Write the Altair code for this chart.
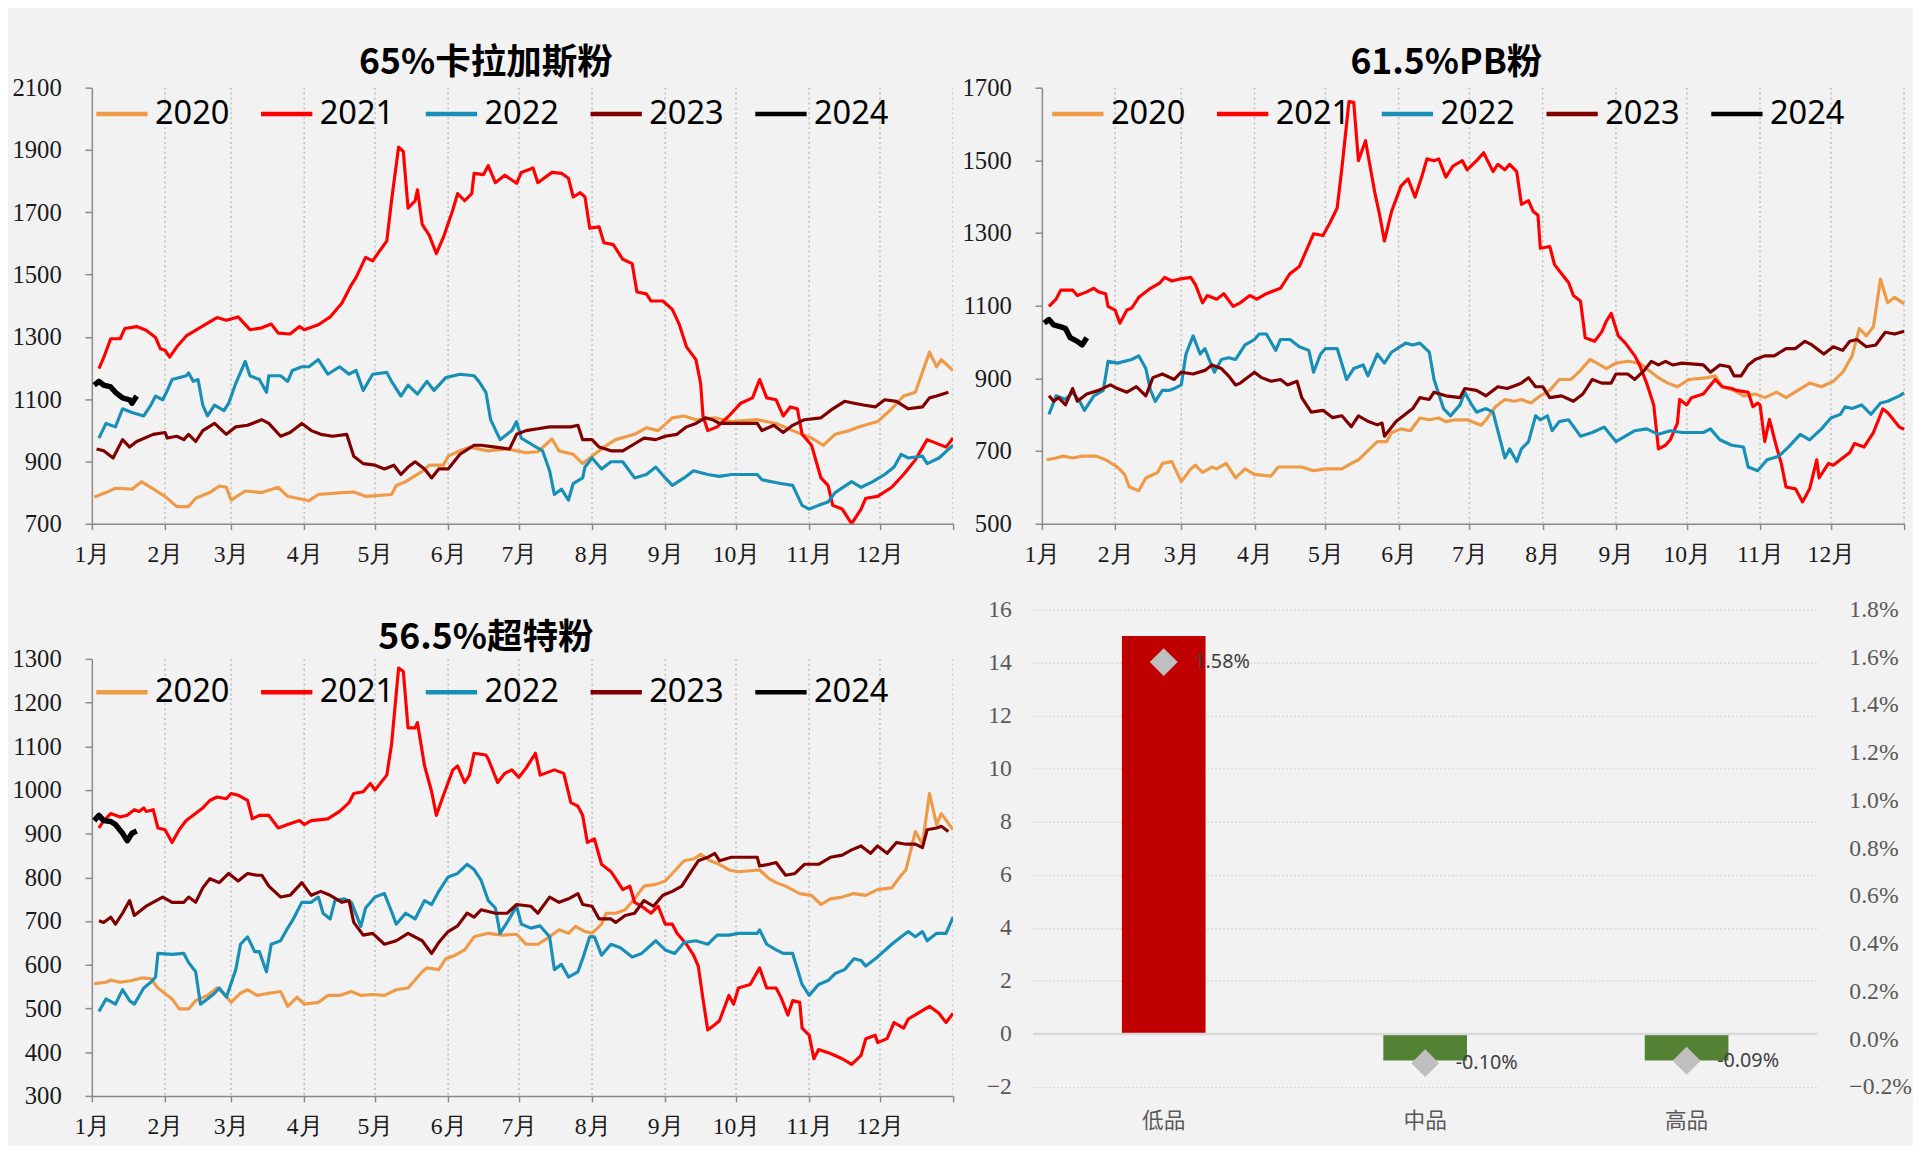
import altair as alt
import pandas as pd

MONTH_DAYS = [0, 31, 59, 90, 120, 151, 181, 212, 243, 273, 304, 334, 365]
MONTH_LABELS = ["1月", "2月", "3月", "4月", "5月", "6月", "7月", "8月", "9月", "10月", "11月", "12月", ""]
YEARS = ["2020", "2021", "2022", "2023", "2024"]
COLORS = ["#EE9A47", "#FF0000", "#178FB6", "#800000", "#000000"]

# ---- 65%卡拉加斯粉 ----
K20 = [(1,786),(6,800),(10,814),(17,811),(21,835),(31,788),(36,755),(41,755),(44,782),(50,800),(54,821),(57,817),(59,776),(65,805),(72,800),(79,817),(83,788),(92,774),(96,794),(106,800),(111,802),(116,788),(127,794),(129,823),(133,835),(140,868),(143,888),(149,888),(151,917),(155,931),(160,946),(168,934),(176,940),(184,928),(189,931),(195,972),(198,934),(204,923),(208,893),(212,917),(217,946),(222,970),(230,987),(235,1008),(240,999),(246,1040),(251,1046),(256,1034),(264,1040),(271,1028),(282,1034),(290,1022),(297,999),(305,975),(310,952),(315,987),(321,999),(326,1013),(333,1028),(339,1069),(344,1110),(349,1122),(355,1251),(358,1204),(360,1227),(365,1192)]
K21 = [(3,1198),(5,1233),(8,1294),(12,1294),(14,1327),(19,1333),(23,1321),(27,1298),(29,1262),(31,1257),(33,1235),(36,1268),(40,1303),(48,1339),(53,1362),(57,1353),(62,1364),(67,1323),(72,1329),(76,1341),(79,1312),(84,1309),(88,1333),(90,1323),(96,1339),(101,1364),(106,1409),(110,1467),(112,1491),(116,1555),(119,1544),(125,1608),(127,1737),(130,1909),(132,1895),(134,1713),(137,1737),(138,1772),(140,1661),(143,1626),(146,1567),(149,1620),(153,1708),(155,1760),(158,1737),(161,1760),(162,1825),(166,1821),(168,1850),(171,1795),(175,1819),(180,1793),(182,1828),(187,1842),(189,1795),(195,1828),(199,1825),(202,1809),(204,1749),(207,1763),(209,1749),(211,1649),(215,1653),(217,1602),(221,1596),(225,1549),(229,1535),(231,1444),(235,1438),(237,1415),(242,1415),(246,1388),(249,1339),(252,1268),(256,1227),(258,1151),(259,1046),(261,999),(265,1011),(270,1046),(275,1087),(280,1104),(283,1163),(286,1104),(290,1098),(293,1046),(296,1075),(299,1069),(301,987),(305,952),(309,847),(312,823),(314,759),(318,747),(322,700),(326,747),(328,782),(333,788),(339,817),(344,858),(349,905),(354,970),(358,958),(362,946),(365,975)]
K22 = [(3,975),(6,1022),(10,1011),(13,1069),(17,1057),(22,1046),(25,1081),(27,1110),(30,1098),(32,1128),(34,1163),(40,1175),(41,1184),(43,1157),(45,1163),(47,1081),(49,1046),(52,1081),(56,1063),(58,1087),(61,1151),(65,1221),(67,1175),(71,1163),(74,1122),(75,1175),(80,1175),(83,1157),(85,1192),(89,1204),(92,1204),(96,1227),(100,1180),(105,1204),(109,1180),(112,1192),(115,1128),(119,1180),(125,1186),(127,1157),(131,1110),(134,1145),(138,1116),(142,1157),(145,1128),(150,1169),(156,1180),(162,1175),(164,1157),(167,1122),(169,1034),(173,970),(178,999),(180,1028),(182,975),(187,952),(191,934),(194,870),(196,794),(199,811),(202,776),(204,829),(208,847),(209,882),(212,911),(216,876),(220,899),(225,899),(230,847),(235,858),(239,882),(243,847),(246,823),(251,847),(255,870),(261,858),(266,852),(271,858),(282,858),(284,841),(292,829),(297,823),(301,759),(304,747),(308,759),(312,770),(315,800),(322,835),(326,817),(331,835),(336,858),(340,882),(343,923),(346,911),(352,917),(354,893),(359,911),(365,952)]
K23 = [(2,940),(5,934),(9,911),(13,970),(16,946),(19,964),(26,987),(31,993),(32,975),(36,981),(39,970),(41,987),(44,964),(47,999),(52,1022),(57,987),(61,1011),(66,1016),(72,1034),(75,1022),(80,981),(84,993),(89,1022),(93,999),(97,987),(102,981),(108,987),(111,917),(115,893),(120,888),(124,876),(128,888),(131,858),(134,882),(137,899),(141,876),(144,847),(147,876),(151,876),(156,923),(162,952),(165,952),(171,946),(177,940),(180,987),(184,999),(189,1005),(194,1011),(203,1011),(206,1016),(208,970),(212,970),(215,946),(220,934),(225,934),(229,952),(234,975),(239,970),(243,981),(248,987),(252,1011),(256,1022),(260,1040),(263,1034),(266,1022),(271,1022),(282,1022),(284,999),(289,1016),(293,993),(297,1016),(302,1034),(309,1040),(314,1069),(319,1093),(323,1087),(327,1081),(332,1075),(336,1098),(341,1093),(346,1069),(352,1075),(355,1104),(358,1110),(363,1122)]
K24 = [(1,1145),(3,1157),(5,1145),(8,1139),(10,1122),(13,1104),(16,1098),(17,1087),(19,1110)]

# ---- 61.5%PB粉 ----
P20 = [(2,676),(6,681),(9,686),(13,681),(17,686),(23,686),(27,676),(32,656),(35,636),(37,601),(41,591),(44,626),(49,641),(51,666),(55,671),(59,616),(63,651),(65,661),(68,641),(72,656),(74,651),(78,666),(82,626),(86,651),(90,636),(97,631),(100,656),(110,656),(115,646),(120,651),(127,651),(131,666),(134,676),(138,701),(142,726),(146,726),(148,751),(152,761),(156,756),(160,791),(164,786),(168,791),(171,781),(175,786),(180,786),(186,771),(188,786),(192,822),(196,842),(200,837),(203,842),(207,832),(211,852),(215,867),(219,897),(224,897),(228,922),(232,952),(235,942),(239,927),(243,942),(248,947),(253,942),(257,922),(261,902),(265,887),(269,877),(274,897),(282,902),(285,907),(288,877),(293,867),(297,852),(302,857),(306,847),(311,862),(315,847),(320,867),(325,887),(330,877),(335,892),(339,917),(343,962),(346,1037),(349,1017),(352,1042),(355,1173),(358,1108),(361,1123),(365,1105)]
P21 = [(3,1098),(6,1118),(8,1143),(13,1143),(15,1128),(19,1138),(22,1148),(24,1138),(27,1133),(28,1098),(31,1088),(33,1052),(36,1088),(38,1093),(41,1123),(46,1148),(50,1163),(52,1178),(55,1168),(58,1173),(63,1178),(65,1158),(68,1108),(70,1128),(74,1118),(77,1133),(81,1098),(84,1108),(88,1128),(91,1118),(95,1133),(101,1148),(105,1188),(109,1208),(111,1238),(115,1298),(119,1293),(122,1329),(125,1369),(127,1479),(130,1662),(132,1660),(134,1499),(137,1554),(141,1409),(143,1349),(145,1278),(148,1359),(152,1429),(155,1449),(158,1399),(161,1459),(163,1504),(166,1499),(168,1504),(171,1454),(174,1484),(178,1499),(180,1474),(184,1499),(187,1521),(191,1469),(193,1489),(196,1474),(198,1489),(201,1469),(203,1379),(206,1389),(208,1359),(210,1349),(211,1258),(215,1263),(217,1213),(220,1188),(223,1163),(225,1128),(228,1113),(230,1012),(234,1002),(237,1028),(239,1058),(241,1079),(244,1017),(247,997),(251,962),(253,937),(256,887),(259,827),(261,706),(264,716),(266,731),(269,776),(270,842),(273,827),(275,847),(280,857),(285,897),(288,877),(292,872),(294,867),(299,862),(301,822),(303,832),(304,827),(306,726),(308,787),(311,711),(313,666),(315,601),(319,596),(322,560),(325,596),(328,676),(329,626),(333,666),(335,661),(338,676),(342,696),(344,721),(348,711),(352,751),(356,816),(358,806),(363,766),(365,760)]
P22 = [(3,801),(6,852),(10,842),(13,862),(16,837),(18,812),(22,852),(26,867),(28,947),(32,942),(38,952),(41,962),(44,927),(46,867),(48,837),(51,867),(54,867),(56,872),(59,882),(61,967),(64,1017),(67,967),(69,982),(73,917),(76,952),(79,957),(82,952),(86,992),(90,1007),(92,1022),(95,1022),(99,977),(101,1007),(105,1007),(109,987),(113,977),(115,917),(118,967),(120,982),(125,982),(129,897),(132,927),(136,937),(138,907),(142,967),(145,942),(148,972),(154,997),(157,992),(160,997),(164,972),(166,897),(170,817),(173,797),(177,827),(179,862),(182,827),(184,807),(188,817),(191,807),(193,756),(196,681),(198,706),(201,671),(203,706),(206,726),(209,797),(211,786),(214,797),(216,756),(219,781),(223,786),(228,741),(233,751),(238,766),(243,726),(247,741),(251,756),(256,761),(261,746),(266,756),(271,751),(280,751),(283,761),(287,731),(292,716),(297,711),(299,656),(303,646),(307,676),(312,686),(316,711),(321,746),(325,731),(330,761),(334,791),(338,801),(340,822),(343,817),(347,827),(351,801),(355,832),(358,837),(363,852),(365,860)]
P23 = [(3,852),(5,837),(7,847),(10,827),(13,872),(15,837),(19,857),(24,867),(29,882),(32,872),(36,862),(40,877),(44,852),(47,902),(51,912),(56,897),(59,917),(64,912),(69,922),(72,937),(76,927),(79,907),(82,882),(84,887),(90,917),(93,902),(97,892),(101,897),(104,882),(108,892),(110,847),(114,807),(119,812),(123,792),(127,797),(131,767),(134,797),(138,782),(142,772),(144,777),(145,741),(150,782),(154,802),(157,817),(160,847),(164,842),(166,862),(171,852),(177,847),(179,872),(184,867),(188,852),(193,877),(197,872),(201,882),(203,887),(206,902),(209,877),(212,877),(215,847),(220,852),(225,837),(229,857),(233,897),(237,887),(241,887),(243,912),(248,912),(251,897),(255,922),(258,947),(261,937),(264,947),(267,937),(271,942),(280,937),(283,917),(287,937),(291,932),(293,907),(296,907),(299,937),(302,952),(306,962),(310,962),(315,982),(319,982),(323,1002),(326,992),(331,967),(335,987),(339,977),(342,1002),(345,1007),(349,987),(353,992),(357,1027),(361,1022),(365,1030)]
P24 = [(1,1052),(3,1062),(5,1047),(8,1042),(10,1037),(12,1012),(15,1002),(17,992),(19,1012)]

# ---- 56.5%超特粉 ----
C20 = [(1,557),(6,560),(8,565),(12,560),(17,564),(21,570),(25,568),(28,547),(34,522),(37,499),(41,499),(44,518),(49,530),(53,547),(56,535),(59,514),(63,535),(66,543),(70,530),(75,535),(80,539),(83,505),(87,526),(90,510),(96,514),(100,530),(105,530),(110,539),(114,530),(119,532),(124,530),(129,543),(134,547),(140,584),(142,593),(147,589),(150,614),(154,622),(158,634),(162,664),(168,672),(174,668),(180,670),(184,647),(189,647),(194,664),(198,680),(202,672),(205,688),(209,676),(212,672),(216,693),(218,718),(222,718),(226,726),(230,751),(234,780),(239,784),(243,792),(246,809),(251,838),(255,842),(258,853),(262,838),(266,830),(270,817),(274,813),(283,817),(287,797),(290,788),(294,780),(300,763),(305,759),(309,738),(313,751),(318,755),(323,763),(328,759),(333,772),(339,776),(343,805),(345,817),(349,905),(352,876),(355,992),(358,921),(360,946),(365,909)]
C21 = [(3,913),(5,930),(8,946),(12,938),(15,942),(18,955),(20,951),(22,959),(23,951),(26,955),(28,913),(31,909),(34,880),(37,909),(40,930),(47,959),(50,976),(53,984),(57,980),(59,992),(62,988),(66,976),(68,934),(71,942),(75,942),(79,913),(83,921),(88,930),(90,921),(93,930),(100,934),(105,951),(109,971),(111,992),(115,996),(118,1015),(120,1000),(125,1034),(127,1104),(130,1279),(132,1271),(134,1142),(137,1142),(138,1154),(141,1055),(144,996),(146,942),(149,988),(153,1046),(155,1055),(158,1017),(160,1034),(162,1084),(167,1080),(168,1071),(172,1017),(175,1038),(178,1046),(181,1029),(184,1050),(186,1067),(188,1084),(190,1034),(194,1042),(196,1046),(200,1038),(203,971),(206,963),(208,942),(210,880),(213,888),(216,830),(220,813),(222,797),(225,772),(228,780),(230,743),(233,734),(237,718),(240,734),(243,693),(246,693),(248,672),(252,647),(255,622),(257,597),(259,522),(261,451),(264,463),(266,472),(268,501),(270,530),(272,510),(274,547),(279,555),(283,593),(286,547),(290,547),(292,526),(295,485),(297,518),(300,514),(301,455),(304,439),(306,385),(308,406),(313,397),(318,385),(322,372),(326,393),(328,431),(332,439),(333,422),(337,431),(340,468),(344,455),(346,476),(350,489),(355,505),(359,489),(362,468),(365,489)]
C22 = [(3,493),(6,522),(10,510),(13,543),(16,518),(18,510),(22,547),(25,560),(27,572),(28,626),(34,624),(39,626),(41,605),(44,584),(46,510),(49,522),(52,535),(54,547),(57,526),(61,589),(63,647),(66,664),(69,630),(71,630),(74,584),(76,647),(80,655),(83,684),(85,701),(89,743),(93,743),(96,755),(98,718),(101,705),(103,747),(107,751),(110,743),(114,688),(116,730),(120,755),(124,763),(127,722),(129,693),(133,718),(137,705),(141,747),(144,738),(147,768),(151,801),(155,809),(159,830),(162,818),(165,793),(168,747),(171,730),(173,672),(176,697),(180,734),(182,693),(186,684),(190,689),(194,664),(196,589),(199,601),(202,572),(206,584),(208,614),(211,664),(213,664),(216,622),(220,647),(224,639),(229,618),(233,626),(239,655),(243,634),(247,626),(251,651),(256,655),(261,647),(265,668),(270,668),(274,672),(282,672),(283,680),(286,647),(290,634),(293,626),(297,626),(301,555),(304,530),(308,555),(312,564),(315,580),(319,589),(323,614),(326,610),(328,597),(333,618),(339,647),(343,664),(346,676),(349,664),(352,676),(354,655),(358,672),(362,672),(365,709)]
C23 = [(3,701),(5,697),(8,709),(10,693),(13,718),(16,747),(18,713),(23,734),(30,755),(34,743),(39,743),(41,755),(44,743),(47,776),(50,797),(54,788),(58,809),(62,792),(66,809),(70,805),(72,805),(75,780),(80,755),(84,759),(89,788),(93,759),(97,768),(101,759),(106,743),(109,747),(111,697),(115,668),(119,672),(124,647),(129,655),(134,672),(140,655),(144,626),(147,651),(151,676),(155,689),(159,718),(162,709),(165,726),(171,718),(176,718),(180,738),(186,734),(189,718),(194,755),(198,743),(202,751),(206,763),(208,738),(212,734),(215,705),(220,705),(222,697),(226,713),(230,718),(234,747),(238,734),(242,759),(246,768),(250,780),(253,805),(257,838),(261,846),(264,855),(266,838),(271,846),(282,846),(283,826),(287,830),(290,834),(294,805),(298,809),(302,830),(308,830),(313,846),(318,851),(322,863),(326,872),(330,855),(333,872),(337,855),(341,880),(345,876),(349,876),(352,868),(354,909),(358,913),(360,917),(363,905)]
C24 = [(1,930),(3,942),(5,930),(8,928),(10,921),(13,901),(15,884),(17,901),(19,906)]

# ---- bar panel ----
CATS = ["低品", "中品", "高品"]
BAR_VALUES = [15, -1, -1]
PCT_VALUES = [1.58, -0.10, -0.09]
BAR_COLORS = ["#C00000", "#548235", "#548235"]
LEFT_TICKS = [-2, 0, 2, 4, 6, 8, 10, 12, 14, 16]
RIGHT_TICKS = [round(-0.2 + 0.2 * i, 1) for i in range(11)]

SERIF = "Liberation Serif, Times New Roman, DejaVu Serif, serif"
LABEL_EXPR = "[" + ",".join("'%s'" % m for m in MONTH_LABELS) + "][indexof([" + ",".join(str(d) for d in MONTH_DAYS) + "], datum.value)]"


def line_panel(title_text, series, ydom, ystep, width, height, yrange=None, xrange=None,
               yaxis_offset=0, legend_x=2, legend_y=-2, title_offset=-34, title_dx=3):
    rows = []
    for yr, pts in zip(YEARS, series):
        for d, v in pts:
            rows.append({"day": d, "value": v, "year": yr})
    df = pd.DataFrame(rows)
    yticks = list(range(ydom[0], ydom[1] + 1, ystep))
    ysc = dict(domain=ydom, nice=False, zero=False)
    if yrange is not None:
        ysc["range"] = yrange
    yscale = alt.Scale(**ysc)
    xsc = dict(domain=[0, 365], nice=False, zero=False)
    if xrange is not None:
        xsc["range"] = xrange
    xscale = alt.Scale(**xsc)
    xaxis = alt.Axis(values=MONTH_DAYS, labelExpr=LABEL_EXPR, grid=False, tickSize=6,
                     labelPadding=13, labelFontSize=24, labelFlush=False)
    yaxis = alt.Axis(values=yticks, format="d", grid=False, tickSize=7, labelPadding=24,
                     labelFontSize=25, labelFlush=False, offset=yaxis_offset)
    grid = alt.Chart(pd.DataFrame({"day": MONTH_DAYS[1:]})).mark_rule(
        color="#BDBDBD", strokeDash=[2, 3], strokeWidth=1.5, clip=True
    ).encode(
        x=alt.X("day:Q", scale=xscale, axis=xaxis, title=None),
        y=alt.YDatum(ydom[1], scale=yscale, axis=yaxis, title=None),
        y2=alt.Y2Datum(ydom[0]),
    )
    lines = alt.Chart(df).mark_line(strokeJoin="round", clip=True).encode(
        x=alt.X("day:Q", scale=xscale, axis=xaxis, title=None),
        y=alt.Y("value:Q", scale=yscale, axis=yaxis, title=None),
        color=alt.Color("year:N", scale=alt.Scale(domain=YEARS, range=COLORS),
                        legend=alt.Legend(orient="none", legendX=legend_x, legendY=legend_y,
                                          direction="horizontal", title=None,
                                          symbolType="stroke", symbolSize=2704,
                                          symbolStrokeWidth=4.5, labelFont="Noto Sans",
                                          labelFontSize=33, labelColor="#000000",
                                          labelOffset=5, columnPadding=22, padding=0)),
        strokeWidth=alt.when(alt.datum.year == "2024").then(alt.value(5.5)).otherwise(alt.value(3.2)),
    )
    return alt.layer(grid, lines, title=alt.TitleParams(
        title_text, font="Noto Sans CJK SC", fontSize=36, fontWeight="bold",
        color="#000000", anchor="middle", frame="bounds", baseline="alphabetic",
        offset=title_offset, dx=title_dx)).properties(width=width, height=height)


tl = line_panel("65%卡拉加斯粉", [K20, K21, K22, K23, K24], [700, 2100], 200, 873, 442)
tr = line_panel("61.5%PB粉", [P20, P21, P22, P23, P24], [500, 1700], 200, 892, 442,
                xrange=[9, 883], yaxis_offset=-9, legend_x=17, title_dx=9)
bl = line_panel("56.5%超特粉", [C20, C21, C22, C23, C24], [300, 1300], 100, 873, 493,
                yrange=[493, 50], legend_y=55, title_offset=-76, title_dx=3)

bdf = pd.DataFrame({"cat": CATS, "bar": BAR_VALUES, "pct": PCT_VALUES, "colr": BAR_COLORS,
                    "label": ["%.2f%%" % v for v in PCT_VALUES]})
base = alt.Chart(bdf)
xenc = alt.X("cat:N", sort=CATS, title=None,
             scale=alt.Scale(paddingInner=0.68, paddingOuter=0.34),
             axis=alt.Axis(domain=False, ticks=False, labelAngle=0, labelFont="Noto Sans CJK SC",
                           labelFontSize=22, labelColor="#595959", labelPadding=24))
lscale = alt.Scale(domain=[-2, 16], nice=False, zero=False)
laxis = alt.Axis(values=LEFT_TICKS, grid=True, gridColor="#D9D9D9", gridDash=[2, 2],
                 gridWidth=1.5, domain=False, ticks=False, labelFont=SERIF,
                 labelFontSize=24, labelColor="#595959", labelPadding=22)
rscale = alt.Scale(domain=[-0.2, 1.8], nice=False, zero=False)
raxis = alt.Axis(orient="right", values=RIGHT_TICKS, grid=False, domain=False, ticks=False,
                 labelExpr="format(datum.value, '.1f') + '%'", labelFont=SERIF,
                 labelFontSize=24, labelColor="#595959", labelPadding=32)
bars = base.mark_bar().encode(
    x=xenc,
    y=alt.Y("bar:Q", scale=lscale, axis=laxis, title=None),
    color=alt.Color("colr:N", scale=None, legend=None),
)
zero = alt.Chart(pd.DataFrame({"z": [0]})).mark_rule(color="#D9D9D9", strokeWidth=2.5).encode(
    y=alt.Y("z:Q", scale=lscale, axis=laxis, title=None)
)
pts = base.mark_point(shape="diamond", filled=True, size=800, color="#BFBFBF", opacity=1).encode(
    x=xenc, y=alt.Y("pct:Q", scale=rscale, axis=raxis, title=None)
)
txt = base.mark_text(align="left", baseline="middle", dx=31, font="Noto Sans", fontSize=20,
                     color="#404040").encode(
    x=xenc, y=alt.Y("pct:Q", scale=rscale, axis=raxis, title=None), text="label:N"
)
br = alt.layer(alt.layer(bars, zero), alt.layer(pts, txt)).resolve_scale(
    y="independent").properties(width=795, height=484)

chart = alt.concat(tl, tr, bl, br, columns=2, spacing={"row": 87, "column": 81},
                   bounds="flush").resolve_scale(color="independent").properties(
    background="#F2F2F2",
    padding={"left": 4, "top": 30, "right": 0, "bottom": 0},
).configure_view(stroke=None).configure_axis(
    domainColor="#8A8A8A", domainWidth=1.5, tickColor="#8A8A8A", tickWidth=1.5,
    labelFont=SERIF, labelColor="#1A1A1A",
)

chart.save("out.html", embed_options={"renderer": "svg", "actions": False})
